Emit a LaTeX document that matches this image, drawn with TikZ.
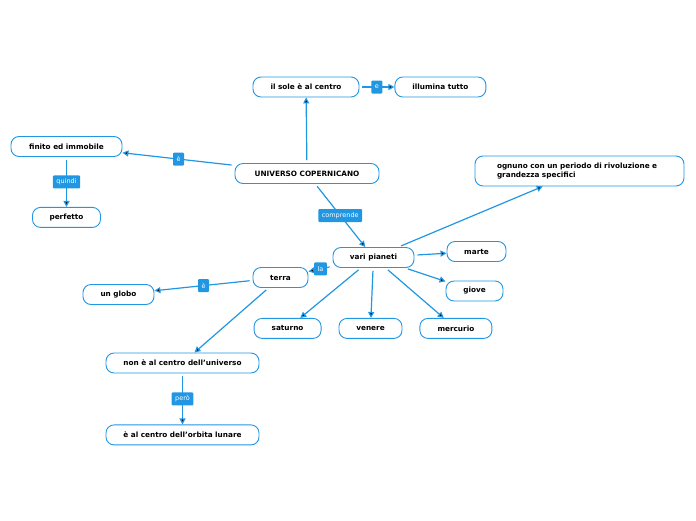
\documentclass[tikz,border=0pt]{standalone}
\usepackage{fontspec}
\setmainfont{DejaVu Sans}
\usetikzlibrary{arrows.meta,positioning}
\definecolor{mapblue}{RGB}{33,150,226}

\begin{document}
\begin{tikzpicture}[x=1pt, y=-1pt, >={Triangle[length=6pt,width=6pt]}, node distance=50pt,
    topic/.style={draw=mapblue, line width=0.9pt, fill=white, rounded corners=8pt, minimum height=20pt,
                  inner sep=3pt, font=\fontsize{7.3}{9}\selectfont\bfseries},
    link/.style={draw=mapblue, line width=1.2pt, ->, shorten <=3pt},
    tag/.style={fill=mapblue, text=white, rounded corners=1pt, minimum height=13pt,
                inner xsep=3.5pt, inner ysep=2pt, font=\fontsize{6.5}{8}\selectfont}]
    \useasboundingbox (0,0) rectangle (696,520);

    \node[topic, minimum width=144pt]           (univ)      at (307,173.5)  {UNIVERSO COPERNICANO};
    \node[topic, minimum width=106pt]           (sole)      at (306,87)     {il sole è al centro};
    \node[topic, minimum width=91pt]            (illumina)  [right=35pt of sole]  {illumina tutto};
    \node[topic, minimum width=111pt]           (finito)    at (66.5,146.5) {finito ed immobile};
    \node[topic, minimum width=68pt]            (perfetto)  [below=of finito]     {perfetto};
    \node[topic, minimum height=30pt, text width=165pt, inner xsep=22pt, align=left]
                                                (ognuno)    at (579.5,171)  {ognuno con un periodo di rivoluzione e\\grandezza specifici};
    \node[topic, minimum width=81pt]            (planeti)   at (373.5,257.5) {vari pianeti};
    \node[topic, minimum width=59pt]            (marte)     at (476.5,251.5) {marte};
    \node[topic, minimum width=57pt]            (giove)     at (474.5,291)  {giove};
    \node[topic, minimum width=63pt]            (venere)    [below=50pt of planeti, xshift=-3pt] {venere};
    \node[topic, minimum width=67pt]            (saturno)   [left=17pt of venere]  {saturno};
    \node[topic, minimum width=72pt]            (mercurio)  [right=17pt of venere] {mercurio};
    \node[topic, minimum width=55pt]            (terra)     at (280.5,277.5) {terra};
    \node[topic, minimum width=71pt]            (globo)     at (118.5,294.5) {un globo};
    \node[topic, minimum width=153pt]           (noncentro) at (182.5,363)  {non è al centro dell'universo};
    \node[topic, minimum width=153pt]           (orbita)    [below=51pt of noncentro] {è al centro dell'orbita lunare};

    \path[link] (univ)      edge                          (sole)
                            edge node[tag] {è}            (finito)
                            edge node[tag] {comprende}    (planeti)
                (sole)      edge node[tag] {e}            (illumina)
                (finito)    edge node[tag] {quindi}       (perfetto)
                (planeti)   edge                          (ognuno)
                            edge                          (marte)
                            edge                          (giove)
                            edge                          (saturno)
                            edge                          (venere)
                            edge                          (mercurio)
                            edge node[tag] {la}           (terra)
                (terra)     edge node[tag] {è}            (globo)
                            edge                          (noncentro)
                (noncentro) edge node[tag] {però}         (orbita);
\end{tikzpicture}
\end{document}
